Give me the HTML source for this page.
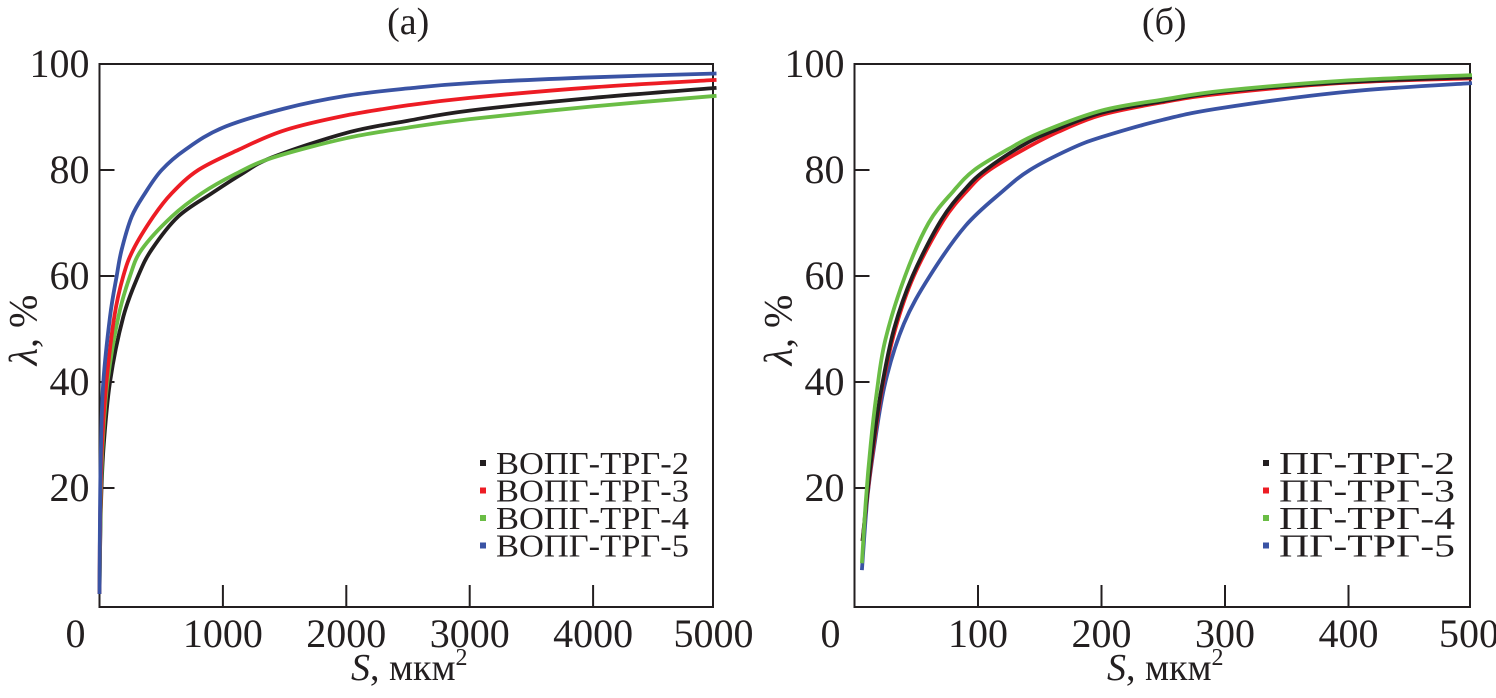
<!DOCTYPE html>
<html><head><meta charset="utf-8"><style>
body{margin:0;background:#fff}
svg text{font-family:"Liberation Serif","Times New Roman",serif;fill:#231f20}
</style></head><body>
<svg id="s" width="1496" height="693" xmlns="http://www.w3.org/2000/svg">
</svg>
<script>
const s=document.getElementById('s');let h='';
function Y(v){return 594-v*5.3;}
const A={x0:99.5,k:0.1234,right:713},B={x0:854.5,k:1.235,right:1470};
function frame(P,xt,ttl){
 h+=`<rect x="${P.x0}" y="64" width="${P.right-P.x0}" height="543" fill="none" stroke="#231f20" stroke-width="2"/>`;
 [20,40,60,80].forEach(v=>{h+=`<line x1="${P.x0}" x2="${P.x0+15}" y1="${Y(v)}" y2="${Y(v)}" stroke="#231f20" stroke-width="2"/>`;});
 [20,40,60,80,100].forEach(v=>{h+=`<text x="${P.x0-10}" y="${Y(v)+13}" font-size="40" text-anchor="end">${v}</text>`;});
 xt.forEach((t,i)=>{const x=P.x0+t*P.k; if(i>0&&i<xt.length-1)h+=`<line x1="${x}" x2="${x}" y1="607" y2="585" stroke="#231f20" stroke-width="2"/>`;
  h+=`<text x="${i==0?P.x0-24:(i==xt.length-1?x-3:x)}" y="647" font-size="40" text-anchor="middle">${t}</text>`;});
 const cx=(P.x0+P.right)/2;
 h+=`<text x="${cx+3}" y="680" font-size="38" text-anchor="middle"><tspan font-style="italic">S</tspan>, мкм<tspan font-size="24" dy="-15">2</tspan></text>`;
 h+=`<text transform="translate(${P.x0-63},330) rotate(-90)" font-size="40" text-anchor="middle"><tspan font-style="italic">λ</tspan>, %</text>`;
 h+=`<text x="${cx+2}" y="34" font-size="38" text-anchor="middle">${ttl}</text>`;
}
frame(A,[0,1000,2000,3000,4000,5000],'(а)');
frame(B,[0,100,200,300,400,500],'(б)');
function curve(P,pts,c){
 const p=pts.map(q=>[P.x0+q[0]*P.k,Y(q[1])]);
 let d='M'+p[0][0].toFixed(1)+','+p[0][1].toFixed(1);
 for(let i=0;i<p.length-1;i++){
  const p0=p[Math.max(0,i-1)],p1=p[i],p2=p[i+1],p3=p[Math.min(p.length-1,i+2)];
  const c1=[p1[0]+(p2[0]-p0[0])/6,p1[1]+(p2[1]-p0[1])/6],c2=[p2[0]-(p3[0]-p1[0])/6,p2[1]-(p3[1]-p1[1])/6];
  d+=`C${c1[0].toFixed(1)},${c1[1].toFixed(1)} ${c2[0].toFixed(1)},${c2[1].toFixed(1)} ${p2[0].toFixed(1)},${p2[1].toFixed(1)}`;
 }
 h+=`<path d="${d}" fill="none" stroke="${c}" stroke-width="3.8" stroke-linejoin="round"/>`;}
const K='#231f20',R='#ed1c24',G='#6abd45',Bl='#3a53a4';
curve(A,[[0,0],[10,15],[31,27],[85,40],[193,52.3],[313,60],[423,65],[637,71.2],[909,75.6],[1150,79.2],[1400,82.4],[2000,87],[2500,89.3],[3000,91.2],[4000,93.6],[5000,95.5]],K);
curve(A,[[0,0],[8,15],[25,28],[65,40],[153,52.3],[247,60],[342,65],[585,71.2],[828,75.6],[1098,79.2],[1400,82.3],[2000,86],[2500,88],[3000,89.6],[4000,92],[5000,94]],G);
curve(A,[[0,0],[6,15],[20,28],[56,40],[120,52.3],[193,60],[274,65],[436,71.2],[585,75.6],[801,80],[1125,83.8],[1500,87.5],[2000,90.3],[2500,92.2],[3000,93.6],[4000,95.6],[5000,97]],R);
curve(A,[[0,0],[4,15],[12,28],[31,40],[85,52.3],[139,60],[180,65],[261,71.2],[369,75.6],[504,80],[693,83.8],[1000,88],[1500,91.6],[2000,94],[2500,95.4],[3000,96.4],[4000,97.5],[5000,98.2]],Bl);
curve(B,[[6,4.5],[10.4,18],[16,28],[25,40],[40,51],[61,60],[90,69.5],[120,76],[142,80],[175,84],[200,86.2],[250,89.5],[300,91.8],[400,94.8],[500,96.4]],Bl);
curve(B,[[6.5,10],[10.6,19],[15.5,28],[22.5,39],[33,50],[48,60],[72,70.5],[92,76.3],[108,79.8],[138,84],[165,87.2],[200,90.4],[250,92.8],[300,94.5],[400,96.5],[500,97.3]],R);
curve(B,[[6.5,10],[10.4,19],[15,28],[22,39],[32,50],[47,60],[70,70.5],[90,76.5],[106,80],[135,84.5],[160,87.3],[200,90.8],[250,93],[300,94.8],[400,96.6],[500,97.5]],K);
curve(B,[[6,5.8],[9.3,18],[13,28],[18,38],[25,48],[41,60],[60,70],[80,76],[97,80],[125,84],[150,87],[200,91.2],[250,93.3],[300,95],[400,96.9],[500,97.9]],G);
function legend(x,names,tl){[K,R,G,Bl].forEach((c,i)=>{const y=463+i*27.5;
 h+=`<rect x="${x-3}" y="${y-3}" width="6" height="6" fill="${c}"/>`;
 h+=`<text x="${x+13}" y="${y+11}" font-size="32" textLength="${tl}" lengthAdjust="spacingAndGlyphs">${names[i]}</text>`;});}
legend(483,['ВОПГ-ТРГ-2','ВОПГ-ТРГ-3','ВОПГ-ТРГ-4','ВОПГ-ТРГ-5'],193);
legend(1266,['ПГ-ТРГ-2','ПГ-ТРГ-3','ПГ-ТРГ-4','ПГ-ТРГ-5'],176);
s.innerHTML=h;
</script>
</body></html>
